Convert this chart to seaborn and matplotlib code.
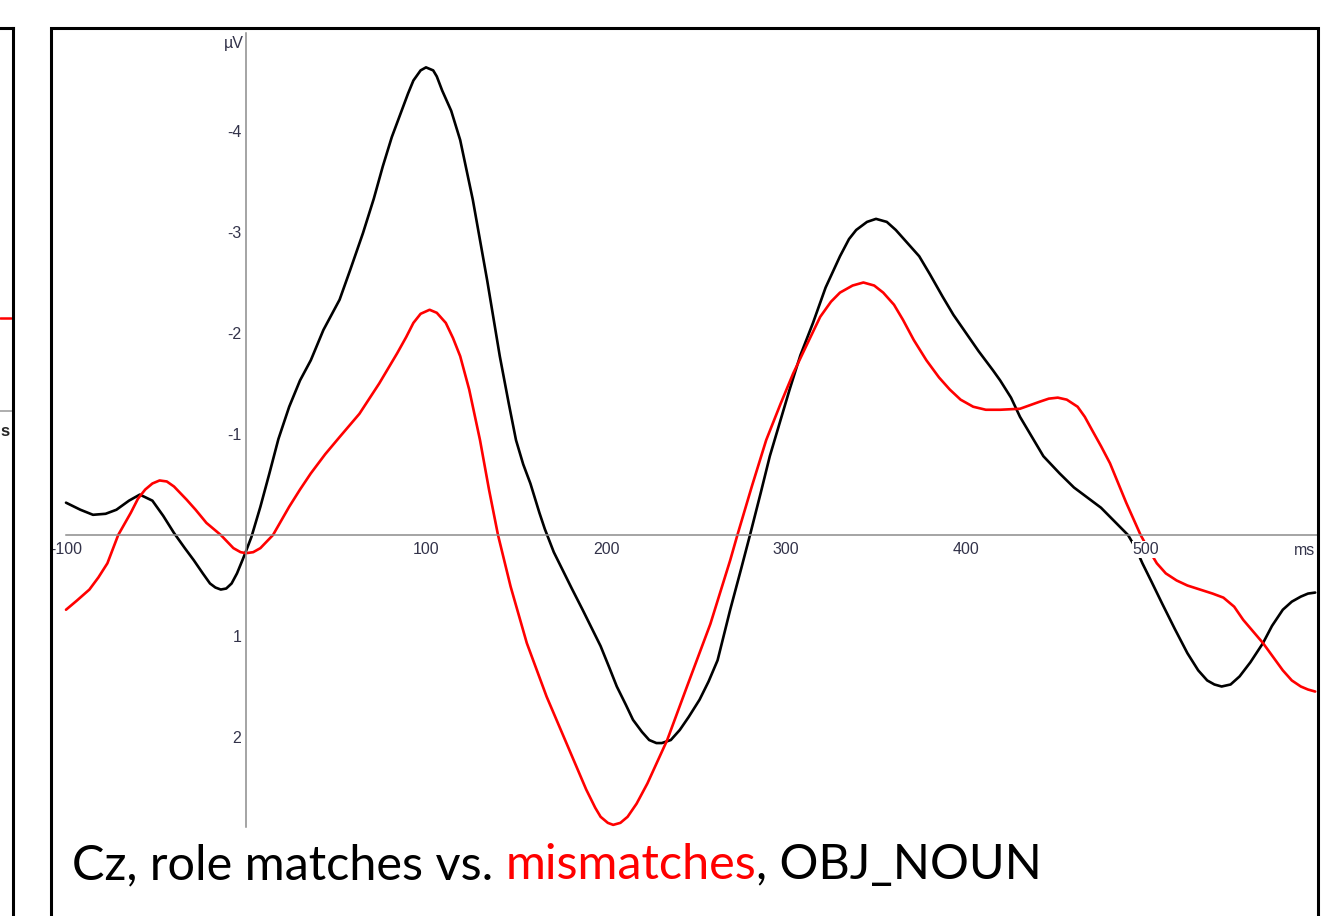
import matplotlib
matplotlib.use('Agg')
import matplotlib.pyplot as plt
import matplotlib.patches as mpatches
from matplotlib.ticker import MultipleLocator, FixedLocator
import pandas as pd
import seaborn as sns

# ERP at Cz (ms, microvolts; negative plotted up)
time_match = [-100, -92, -85, -78, -72, -65, -59, -52, -46, -40, -34, -29, -24, -20, -17, -14, -11,
              -8, -5, -2, 0, 3, 8, 13, 18, 24, 30, 36, 43, 52, 58, 65, 71, 76, 81, 86, 90, 93, 97,
              100, 104, 106, 109, 114, 119, 126, 134, 141, 146, 150, 154, 158, 163, 166, 171, 176,
              181, 187, 192, 197, 202, 206, 211, 215, 220, 224, 228, 231, 236, 241, 246, 252, 257,
              262, 269, 275, 280, 286, 291, 297, 302, 308, 315, 322, 330, 335, 339, 345, 350, 356,
              361, 367, 374, 380, 387, 393, 400, 407, 415, 419, 425, 430, 437, 443, 452, 460, 469,
              475, 480, 485, 490, 494, 498, 503, 509, 516, 523, 529, 534, 538, 542, 547, 552, 558,
              565, 570, 576, 581, 586, 590, 594]
amp_match = [-0.32, -0.25, -0.20, -0.21, -0.25, -0.34, -0.40, -0.34, -0.19, -0.02, 0.13, 0.25,
             0.38, 0.48, 0.52, 0.54, 0.53, 0.48, 0.38, 0.25, 0.16, 0.02, -0.28, -0.61, -0.95,
             -1.27, -1.53, -1.73, -2.03, -2.33, -2.63, -2.99, -3.33, -3.65, -3.94, -4.18, -4.37,
             -4.50, -4.60, -4.63, -4.60, -4.54, -4.40, -4.20, -3.91, -3.32, -2.52, -1.77, -1.30,
             -0.94, -0.70, -0.51, -0.22, -0.06, 0.17, 0.35, 0.53, 0.74, 0.92, 1.10, 1.32, 1.50,
             1.68, 1.83, 1.95, 2.03, 2.06, 2.06, 2.03, 1.93, 1.80, 1.63, 1.45, 1.24, 0.74, 0.34,
             0.0, -0.42, -0.78, -1.14, -1.44, -1.78, -2.10, -2.45, -2.76, -2.93, -3.02, -3.10,
             -3.13, -3.10, -3.02, -2.90, -2.76, -2.58, -2.36, -2.18, -2.00, -1.82, -1.63, -1.53,
             -1.36, -1.17, -0.96, -0.78, -0.61, -0.47, -0.35, -0.27, -0.18, -0.09, 0.0, 0.12,
             0.28, 0.46, 0.68, 0.93, 1.17, 1.34, 1.44, 1.48, 1.50, 1.48, 1.40, 1.26, 1.07, 0.90,
             0.74, 0.66, 0.61, 0.58, 0.57]

time_mismatch = [-100, -94, -87, -82, -77, -71, -64, -60, -56, -52, -48, -44, -40, -33, -28, -22,
                 -14, -7, -3, 0, 4, 8, 15, 24, 30, 36, 44, 52, 63, 74, 84, 89, 93, 97, 102, 106,
                 111, 115, 119, 124, 130, 135, 140, 147, 156, 167, 178, 189, 194, 197, 201, 204,
                 208, 212, 217, 223, 234, 245, 258, 269, 273, 281, 289, 297, 304, 312, 319, 325,
                 330, 337, 343, 349, 354, 360, 365, 371, 378, 385, 391, 397, 404, 411, 419, 430,
                 441, 446, 451, 456, 462, 466, 470, 475, 480, 489, 497, 502, 506, 511, 517, 523,
                 530, 537, 543, 549, 554, 565, 576, 581, 586, 590, 594]
amp_mismatch = [0.74, 0.65, 0.54, 0.42, 0.28, 0.0, -0.22, -0.36, -0.45, -0.51, -0.54, -0.53, -0.48,
                -0.35, -0.25, -0.12, 0.0, 0.13, 0.17, 0.18, 0.17, 0.13, 0.0, -0.28, -0.45, -0.61,
                -0.80, -0.97, -1.20, -1.50, -1.80, -1.96, -2.10, -2.19, -2.23, -2.20, -2.10, -1.95,
                -1.77, -1.44, -0.94, -0.45, 0.0, 0.51, 1.07, 1.60, 2.06, 2.52, 2.70, 2.79, 2.85,
                2.87, 2.85, 2.79, 2.66, 2.46, 2.03, 1.50, 0.88, 0.25, 0.0, -0.48, -0.94, -1.30,
                -1.60, -1.90, -2.16, -2.31, -2.40, -2.47, -2.50, -2.47, -2.40, -2.28, -2.13, -1.93,
                -1.73, -1.56, -1.44, -1.34, -1.27, -1.24, -1.24, -1.25, -1.32, -1.35, -1.36, -1.34,
                -1.27, -1.17, -1.04, -0.88, -0.71, -0.32, 0.0, 0.16, 0.28, 0.38, 0.45, 0.50, 0.54,
                0.58, 0.62, 0.71, 0.84, 1.07, 1.34, 1.44, 1.50, 1.53, 1.55]

x_ticks = [-100, 100, 200, 300, 400, 500]
y_ticks = [-4, -3, -2, -1, 1, 2]

df = pd.concat([
    pd.DataFrame({'ms': time_match, 'uV': amp_match, 'cond': 'match'}),
    pd.DataFrame({'ms': time_mismatch, 'uV': amp_mismatch, 'cond': 'mismatch'}),
])

sns.set_style('white')
plt.rcParams['font.family'] = ['Liberation Sans', 'DejaVu Sans']

W, H = 1324, 916
fig = plt.figure(figsize=(W / 100, H / 100), dpi=100)
fig.patch.set_facecolor('white')

# main ERP axes (axes cross at 0,0)
ax = fig.add_axes([50 / W, 0, (1318 - 50) / W, (H - 28) / H])
ax.patch.set_alpha(0)
sns.lineplot(data=df, x='ms', y='uV', hue='cond', palette={'match': 'black', 'mismatch': '#ff0000'},
             estimator=None, sort=True, lw=1.9, legend=False, ax=ax)
ax.set_xlim((50 - 246) / 1.8, (1318 - 246) / 1.8)
ax.set_ylim((H - 535) / 101, (28 - 535) / 101)
ax.set_xlabel('')
ax.set_ylabel('')

for s in ['top', 'right']:
    ax.spines[s].set_visible(False)
ax.spines['left'].set_position(('data', 0))
ax.spines['bottom'].set_position(('data', 0))
ax.spines['left'].set_bounds(-4.97, 2.89)
ax.spines['bottom'].set_bounds(-100, 596)
for s in ['left', 'bottom']:
    ax.spines[s].set_color('#8c8c8c')
    ax.spines[s].set_linewidth(1.1)

ax.xaxis.set_major_locator(FixedLocator(x_ticks))
ax.set_xticklabels([str(t) for t in x_ticks])
ax.xaxis.set_minor_locator(MultipleLocator(20))
ax.yaxis.set_major_locator(FixedLocator(y_ticks))
ax.set_yticklabels([str(t) for t in y_ticks])
ax.yaxis.set_minor_locator(FixedLocator([round(-4.8 + 0.2 * i, 1) for i in range(39)]))
ax.tick_params(which='both', direction='out', length=2.2, width=0.8, color='#808080')
ax.tick_params(axis='x', labelsize=11.5, labelcolor='#33334a', pad=3)
ax.tick_params(axis='y', labelsize=11.5, labelcolor='#33334a', pad=1.2)
ax.set_axisbelow(False)
for lbl in ax.get_xticklabels():
    lbl.set_bbox(dict(facecolor='white', edgecolor='none', pad=0.6))

ax.text(-1.5, -4.87, 'µV', ha='right', va='center', fontsize=11.5, color='#33334a')
ax.text(594, 0.15, 'ms', ha='right', va='center', fontsize=11.5, color='#33334a',
        bbox=dict(facecolor='white', edgecolor='none', pad=0.6))

# panel frame
fig.patches.append(mpatches.Rectangle((50.5 / W, -0.05), (1318 - 50.5) / W, 1.05 - 28.3 / H,
                                      transform=fig.transFigure, fill=False, ec='black', lw=2.2))

# edge of the neighbouring panel on the left
ax0 = fig.add_axes([0, -0.05, 13 / W, 1.05 - 28.3 / H])
ax0.set_xlim(0, 1)
ax0.set_ylim(0, 1)
ax0.set_xticks([])
ax0.set_yticks([])
for s in ['left', 'bottom']:
    ax0.spines[s].set_visible(False)
for s in ['top', 'right']:
    ax0.spines[s].set_color('black')
    ax0.spines[s].set_linewidth(2.2)
y_frac = lambda py: (H * 1.05 - py) / (H * 1.05 - 28.3)
ax0.axhline(y_frac(318), xmax=0.85, color='#ff0000', lw=1.8)
ax0.axhline(y_frac(411), color='#999999', lw=1.1)
ax0.text(0.02, y_frac(431), 's', ha='left', va='center', fontsize=12, fontweight='bold')

# caption with coloured word
parts = [('Cz, role matches vs. ', 'black'), ('mismatches', '#ff0000'), (', OBJ_NOUN', 'black')]
renderer = fig.canvas.get_renderer()
x = 72
for txt, col in parts:
    t = fig.text(x / W, 1 - 879 / H, txt, color=col, fontsize=35, family=['Lato', 'DejaVu Sans'],
                 va='baseline', ha='left')
    x += t.get_window_extent(renderer).width

fig.savefig('out.png', dpi=100)
